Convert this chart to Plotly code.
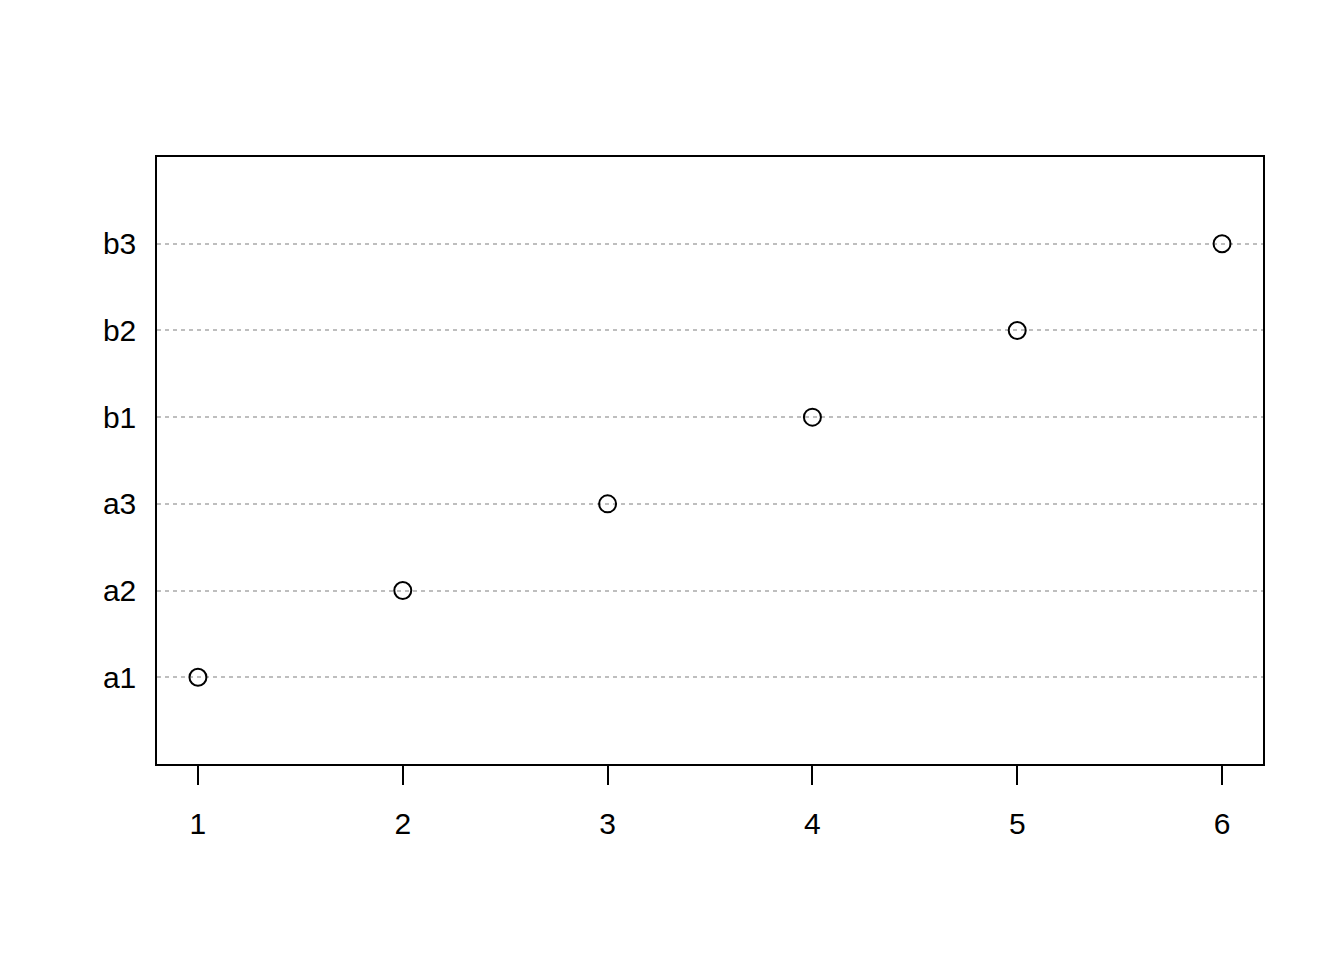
import plotly.graph_objects as go

labels = ["a1", "a2", "a3", "b1", "b2", "b3"]
values = [1, 2, 3, 4, 5, 6]
x_ticks = [1, 2, 3, 4, 5, 6]

positions = list(range(1, len(labels) + 1))

fig = go.Figure()
fig.add_trace(go.Scatter(
    x=values, y=positions, mode="markers",
    marker=dict(symbol="circle-open", size=17, color="black", line=dict(width=2, color="black")),
    showlegend=False, cliponaxis=False,
))

font = dict(family="Liberation Sans, Arial, Helvetica, sans-serif", size=30, color="black")

fig.update_layout(
    width=1336, height=952,
    margin=dict(l=149, r=81, t=149, b=196),
    plot_bgcolor="white", paper_bgcolor="white",
    font=font,
    xaxis=dict(
        range=[0.8, 6.2], tickvals=x_ticks, ticktext=[str(v) for v in x_ticks],
        ticks="outside", ticklen=19, tickwidth=1.5, tickcolor="black",
        showline=True, linecolor="black", linewidth=1.5, mirror=True,
        showgrid=False, zeroline=False, tickfont=font, automargin=False,
        ticklabelstandoff=13,
    ),
    yaxis=dict(
        range=[0, 7], tickvals=positions, ticktext=labels,
        ticks="", showline=True, linecolor="black", linewidth=1.5, mirror=True,
        showgrid=True, gridcolor="#bebebe", gridwidth=1.5, griddash="4px,4px",
        zeroline=False, tickfont=font, ticklabelstandoff=13, automargin=False,
    ),
)

fig.write_html("out.html")
